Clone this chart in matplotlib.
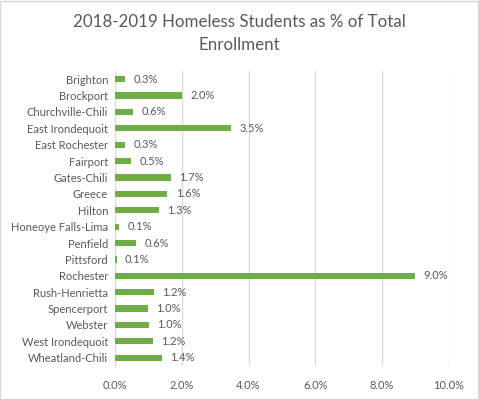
import matplotlib.pyplot as plt
from matplotlib.ticker import FuncFormatter

plt.rcParams['font.family'] = ['Lato', 'DejaVu Sans']

districts = ["Brighton", "Brockport", "Churchville-Chili", "East Irondequoit",
             "East Rochester", "Fairport", "Gates-Chili", "Greece", "Hilton",
             "Honeoye Falls-Lima", "Penfield", "Pittsford", "Rochester",
             "Rush-Henrietta", "Spencerport", "Webster", "West Irondequoit",
             "Wheatland-Chili"]
pct = [0.3, 2.0, 0.55, 3.47, 0.3, 0.48, 1.68, 1.57, 1.32, 0.12, 0.63, 0.05,
       9.0, 1.17, 0.99, 1.02, 1.14, 1.41]
labels = ["0.3%", "2.0%", "0.6%", "3.5%", "0.3%", "0.5%", "1.7%", "1.6%", "1.3%",
          "0.1%", "0.6%", "0.1%", "9.0%", "1.2%", "1.0%", "1.0%", "1.2%", "1.4%"]

txt = "#595959"
fig = plt.figure(figsize=(4.79, 3.99), dpi=100)
ax = fig.add_axes([0.240, 0.083, 0.697, 0.739])

y = list(range(len(districts)))
ax.barh(y, pct, height=0.38, color="#70AD47", zorder=3)
for yi, v, lab in zip(y, pct, labels):
    ax.annotate(lab, (v, yi), xytext=(6, 0), textcoords="offset points",
                va="center", ha="left", fontsize=8, color=txt)

ax.set_yticks(y)
ax.set_yticklabels(districts)
ax.set_ylim(len(districts) - 0.5, -0.5)
ax.set_xlim(0, 10)
ax.set_xticks([0, 2, 4, 6, 8, 10])
ax.xaxis.set_major_formatter(FuncFormatter(lambda v, p: f"{v:.1f}%"))
ax.grid(axis="x", color="#D9D9D9", linewidth=0.9, zorder=0)
for s in ["top", "right", "bottom"]:
    ax.spines[s].set_visible(False)
ax.spines["left"].set_color("#D9D9D9")
ax.tick_params(axis="both", length=0, labelsize=8, colors=txt)
ax.tick_params(axis="x", pad=10)
ax.tick_params(axis="y", pad=5)

fig.text(0.5, 0.965, "2018-2019 Homeless Students as % of Total\nEnrollment",
         ha="center", va="top", fontsize=12.2, color=txt, linespacing=1.55)

fig.patches.append(plt.Rectangle((0.001, 0.001), 0.997, 0.997, transform=fig.transFigure,
                                 fill=False, edgecolor="#D9D9D9", linewidth=1))
fig.savefig("out.png", dpi=100)
